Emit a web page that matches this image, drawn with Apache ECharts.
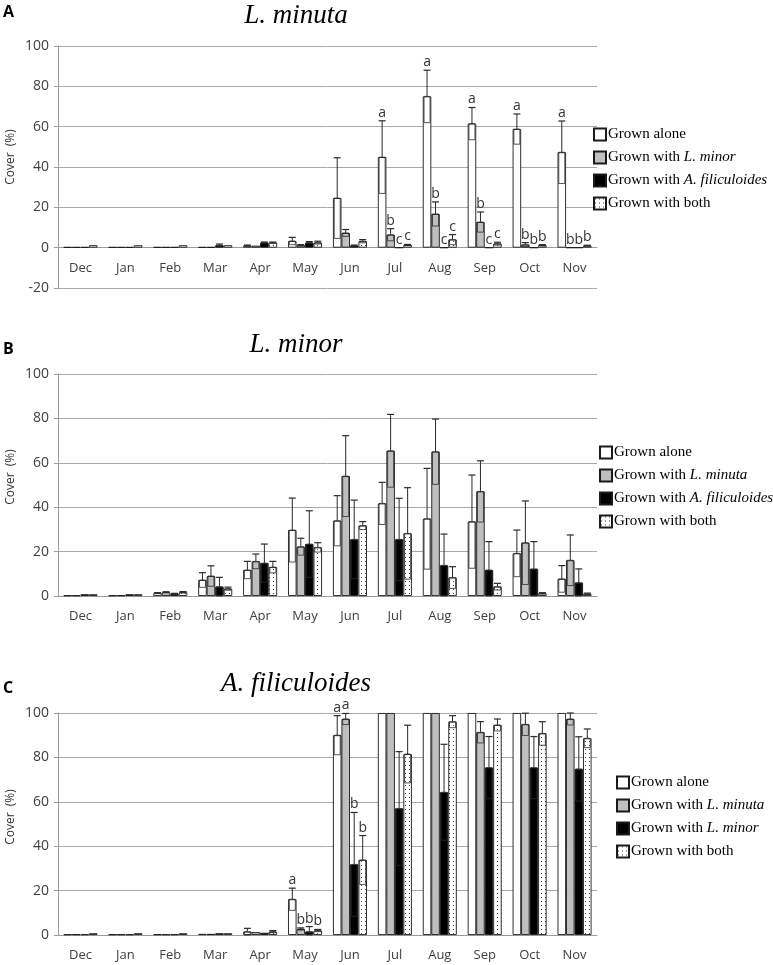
<!DOCTYPE html>
<html>
<head>
<meta charset="utf-8">
<script src="https://cdn.jsdelivr.net/npm/echarts@6/dist/echarts.min.js"></script>
<style>
html,body{margin:0;padding:0;background:#fff;}
#chart{width:773px;height:965px;}
</style>
</head>
<body>
<div id="chart"></div>
<script>
const months = ['Dec','Jan','Feb','Mar','Apr','May','Jun','Jul','Aug','Sep','Oct','Nov'];
const yTicksA = [-20, 100, 20];
const yTicksBC = [0, 100, 20];

// Panel A: L. minuta
const aAlone        = [0.3,0.3,0.3,0.3,1.0,3.3,24.6,44.9,75.0,61.5,58.8,47.3];
const aAloneSd      = [0,0,0,0,0.3,1.8,20,18,13,8,7.5,15.5];
const aWithMinor    = [0.3,0.3,0.3,0.3,1.0,1.2,7.3,6.4,16.7,12.7,1.5,0];
const aWithMinorSd  = [0,0,0,0,0,0.3,1.7,3,6,5,1,0];
const aWithAzolla   = [0.3,0.3,0.3,1.2,2.5,2.5,1.0,0,0,0,0,0];
const aWithAzollaSd = [0,0,0,0.6,0.3,0.5,0.3,0,0,0,0,0];
const aWithBoth     = [1.2,1.2,1.2,1.2,2.5,2.5,3.2,1.3,4.0,2.0,1.2,1.0];
const aWithBothSd   = [0,0,0,0,0.3,0.7,0.8,0.3,2.5,0.7,0.3,0.2];
const aLetAlone  = ['','','','','','','','a','a','a','a','a'];
const aLetMinor  = ['','','','','','','','b','b','b','b','b'];
const aLetAzolla = ['','','','','','','','c','c','c','b','b'];
const aLetBoth   = ['','','','','','','','c','c','c','b','b'];

// Panel B: L. minor
const bAlone        = [0.3,0.3,1.3,7.2,11.7,29.7,33.9,41.7,34.8,33.5,19.2,7.7];
const bAloneSd      = [0,0,0.2,3.3,3.9,14.4,11.3,9.5,22.7,21,10.5,6];
const bWithMinuta   = [0.3,0.3,1.7,9.0,15.6,22.2,54.0,65.4,65.0,47.1,24.0,16.1];
const bWithMinutaSd = [0,0,0.2,4.6,3.3,3.8,18.2,16.4,14.7,13.8,18.8,11.4];
const bWithAzolla   = [0.8,0.8,1.0,4.2,14.8,23.4,25.5,25.5,13.8,11.7,12.2,6.0];
const bWithAzollaSd = [0,0,0.2,4.2,8.6,15,17.7,18.5,14.1,12.8,12.3,6.2];
const bWithBoth     = [0.8,0.8,1.7,3.3,13.0,21.9,31.7,28.2,8.3,4.2,1.2,1.0];
const bWithBothSd   = [0,0,0.3,0.7,2.6,2.1,1.8,20.6,4.9,1.5,0.3,0.3];

// Panel C: A. filiculoides
const cAlone        = [0.3,0.3,0.3,0.5,1.5,16.1,90.0,100,100,100,100,100];
const cAloneSd      = [0,0,0,0,1.5,5,8.8,0,0,0,0,0];
const cWithMinuta   = [0.3,0.3,0.3,0.5,1.3,2.7,97.3,100,100,91.3,94.9,97.3];
const cWithMinutaSd = [0,0,0,0,0,0.5,2.5,0,0,4.8,5,2.7];
const cWithMinor    = [0.3,0.3,0.3,0.8,1.0,1.5,31.8,57.0,64.3,75.4,75.4,74.8];
const cWithMinorSd  = [0,0,0,0,0,2.3,23.4,25.6,21.6,14,14,14.5];
const cWithBoth     = [0.8,0.8,0.8,0.8,1.5,2.0,33.8,81.5,96.1,94.6,90.8,88.6];
const cWithBothSd   = [0,0,0,0,0.5,0.5,11,13,2.7,2.7,5.3,4.2];
const cLetAlone  = ['','','','','','a','a','','','','',''];
const cLetMinuta = ['','','','','','b','a','','','','',''];
const cLetMinor  = ['','','','','','b','b','','','','',''];
const cLetBoth   = ['','','','','','b','b','','','','',''];
const none = ['','','','','','','','','','','',''];

// dotted pattern
const pc = document.createElement('canvas');
pc.width = 4; pc.height = 4;
const pctx = pc.getContext('2d');
pctx.fillStyle = '#fff'; pctx.fillRect(0,0,4,4);
pctx.fillStyle = '#444'; pctx.fillRect(1,1,1,1);
const dotted = {image: pc, repeat: 'repeat'};

const fills = ['#ffffff', '#bfbfbf', '#000000', dotted];
const BW = 8.5;

const legendText = {
  A0: '{r|Grown alone}',
  A1: '{r|Grown with }{i|L. minor}',
  A2: '{r|Grown with }{i|A. filiculoides}',
  A3: '{r|Grown with both}',
  B0: '{r|Grown alone}',
  B1: '{r|Grown with }{i|L. minuta}',
  B2: '{r|Grown with }{i|A. filiculoides}',
  B3: '{r|Grown with both}',
  C0: '{r|Grown alone}',
  C1: '{r|Grown with }{i|L. minuta}',
  C2: '{r|Grown with }{i|L. minor}',
  C3: '{r|Grown with both}'
};

const panels = [
  {key:'A', means:[aAlone,aWithMinor,aWithAzolla,aWithBoth], sds:[aAloneSd,aWithMinorSd,aWithAzollaSd,aWithBothSd],
   lets:[aLetAlone,aLetMinor,aLetAzolla,aLetBoth], ticks:yTicksA},
  {key:'B', means:[bAlone,bWithMinuta,bWithAzolla,bWithBoth], sds:[bAloneSd,bWithMinutaSd,bWithAzollaSd,bWithBothSd],
   lets:[none,none,none,none], ticks:yTicksBC},
  {key:'C', means:[cAlone,cWithMinuta,cWithMinor,cWithBoth], sds:[cAloneSd,cWithMinutaSd,cWithMinorSd,cWithBothSd],
   lets:[cLetAlone,cLetMinuta,cLetMinor,cLetBoth], ticks:yTicksBC}
];

const gridDefs = [
  {left:58, top:46, width:539, height:242},
  {left:58, top:374, width:539, height:222},
  {left:58, top:713, width:539, height:222}
];
const legendPos = [{left:593, top:127},{left:599, top:445},{left:616, top:775}];
const titleDefs = [{text:'L. minuta', top:2},{text:'L. minor', top:331},{text:'A. filiculoides', top:670}];

const sans = '"Open Sans", "DejaVu Sans", sans-serif';
const serif = '"Liberation Serif", "DejaVu Serif", serif';

const xAxis = [], yAxis = [], series = [], legend = [], title = [];
panels.forEach((p, gi) => {
  const g = gridDefs[gi];
  const lo = p.ticks[0], hi = p.ticks[1];
  // place the category axis on the value 0 line
  const zeroOffset = lo < 0 ? -g.height * (0 - lo) / (hi - lo) : 0;
  xAxis.push({
    type:'category', gridIndex:gi, data:months, position:'bottom', offset:zeroOffset,
    axisLine:{onZero:false, lineStyle:{color:'#9a9a9a', width:1}},
    axisTick:{show:false},
    axisLabel:{color:'#404040', fontSize:13, fontFamily:sans, margin:14},
    splitLine:{show:false}
  });
  yAxis.push({
    type:'value', gridIndex:gi, min:lo, max:hi, interval:p.ticks[2],
    axisLine:{show:true, lineStyle:{color:'#9a9a9a'}},
    axisTick:{show:true, length:4, lineStyle:{color:'#9a9a9a'}},
    axisLabel:{color:'#404040', fontSize:14, fontFamily:sans, margin:9},
    splitLine:{show:true, lineStyle:{color:'#a8a8a8', width:1}}
  });
  const names = [0,1,2,3].map(s => p.key + s);
  p.means.forEach((arr, s) => {
    series.push({
      type:'bar', name:names[s], xAxisIndex:gi, yAxisIndex:gi,
      data:arr, barWidth:BW, barGap:'0%',
      itemStyle:{color:fills[s], borderColor:'#1a1a1a', borderWidth:0.9},
      emphasis:{disabled:true}, animation:false
    });
  });
  const edata = [];
  for (let s = 0; s < 4; s++) for (let i = 0; i < 12; i++) edata.push([i, s, p.means[s][i], p.sds[s][i]]);
  series.push({
    type:'custom', xAxisIndex:gi, yAxisIndex:gi, z:10, animation:false, silent:true,
    encode:{x:0, y:2},
    data:edata,
    renderItem:(params, api) => {
      const i = api.value(0), s = api.value(1), m = api.value(2), sd = api.value(3);
      const letter = p.lets[s][i];
      const c = api.coord([i, m]);
      const x = c[0] + (s - 1.5) * BW;
      const children = [];
      let yTop = c[1];
      if (sd > 0) {
        const yT = api.coord([i, m + sd])[1];
        const yL = api.coord([i, Math.max(m - sd, 0)])[1];
        children.push({type:'rect', shape:{x:x-3, y:c[1], width:6, height:yL-c[1]},
          style:{fill:'none', stroke:'#2a2a2a', lineWidth:0.8}});
        children.push({type:'line', shape:{x1:x, y1:yT, x2:x, y2:c[1]},
          style:{stroke:'#2a2a2a', lineWidth:1}});
        children.push({type:'line', shape:{x1:x-3.5, y1:yT, x2:x+3.5, y2:yT},
          style:{stroke:'#2a2a2a', lineWidth:1.2}});
        yTop = yT;
      }
      if (letter) {
        children.push({type:'text', x:x, y:yTop - 1,
          style:{text:letter, fill:'#333', font:'14px ' + sans, align:'center', verticalAlign:'bottom'}});
      }
      return {type:'group', children};
    }
  });
  legend.push({
    orient:'vertical', left:legendPos[gi].left, top:legendPos[gi].top,
    itemWidth:12, itemHeight:12, itemGap:8, padding:0, selectedMode:false,
    icon:'rect', data:names,
    formatter:(n) => legendText[n],
    textStyle:{
      color:'#000', fontFamily:serif, fontSize:15, padding:[0,0,0,-3],
      rich:{
        r:{fontFamily:serif, fontSize:15, color:'#000', lineHeight:16},
        i:{fontFamily:serif, fontSize:15, fontStyle:'italic', color:'#000', lineHeight:16}
      }
    }
  });
  title.push({
    text:titleDefs[gi].text, left:296, top:titleDefs[gi].top, textAlign:'center', padding:0,
    textStyle:{fontFamily:serif, fontStyle:'italic', fontWeight:'normal', fontSize:27, color:'#000'}
  });
});

const graphic = [
  {type:'text', left:3, top:4, style:{text:'A', font:'bold 16px ' + sans, fill:'#000'}},
  {type:'text', left:3, top:341, style:{text:'B', font:'bold 16px ' + sans, fill:'#000'}},
  {type:'text', left:3, top:680, style:{text:'C', font:'bold 16px ' + sans, fill:'#000'}},
  {type:'text', x:11, y:157, rotation:Math.PI/2, style:{text:'Cover  (%)', font:'12px ' + sans, fill:'#333', align:'center', verticalAlign:'middle'}},
  {type:'text', x:11, y:477, rotation:Math.PI/2, style:{text:'Cover  (%)', font:'12px ' + sans, fill:'#333', align:'center', verticalAlign:'middle'}},
  {type:'text', x:11, y:817, rotation:Math.PI/2, style:{text:'Cover  (%)', font:'12px ' + sans, fill:'#333', align:'center', verticalAlign:'middle'}}
];

const chart = echarts.init(document.getElementById('chart'), null, {renderer:'canvas'});
chart.setOption({
  backgroundColor:'#fff',
  animation:false,
  title, legend, graphic,
  grid:gridDefs,
  xAxis, yAxis, series
});
</script>
</body>
</html>
